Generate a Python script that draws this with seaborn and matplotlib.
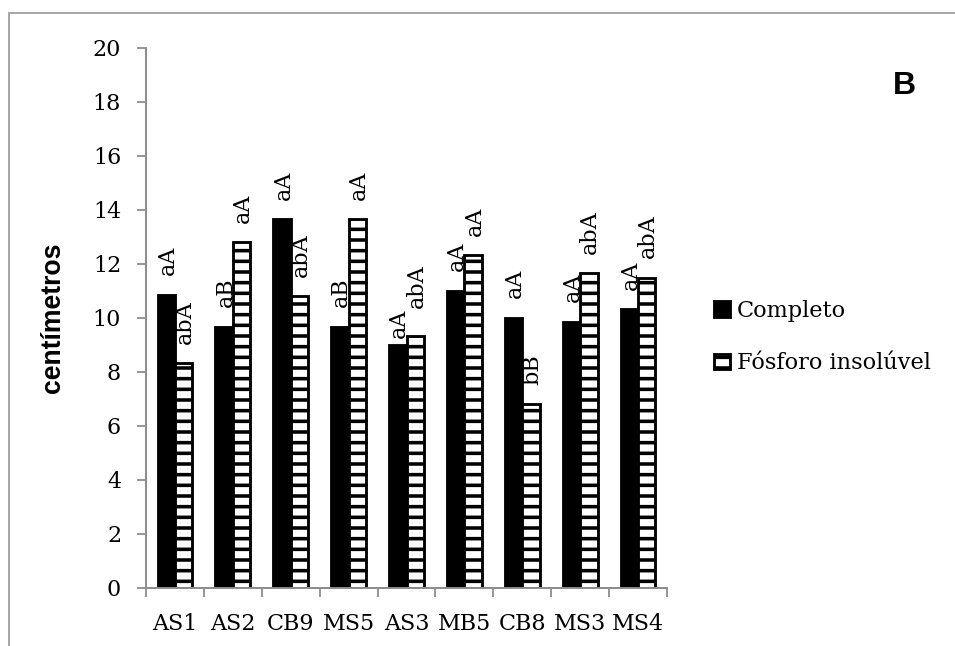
import matplotlib
matplotlib.use("Agg")
import matplotlib.pyplot as plt
from matplotlib.lines import Line2D
import seaborn as sns
import pandas as pd

# Plant height per isolate under two nutrient treatments
categories = ["AS1", "AS2", "CB9", "MS5", "AS3", "MB5", "CB8", "MS3", "MS4"]
completo = [10.85, 9.67, 13.65, 9.67, 9.0, 11.0, 10.0, 9.85, 10.33]
fosforo = [8.33, 12.8, 10.8, 13.65, 9.33, 12.33, 6.8, 11.65, 11.5]
letras_completo = ["aA", "aB", "aA", "aB", "aA", "aA", "aA", "aA", "aA"]
letras_fosforo = ["abA", "aA", "abA", "aA", "abA", "aA", "bB", "abA", "abA"]
series_names = ["Completo", "Fósforo insolúvel"]
y_ticks = [0, 2, 4, 6, 8, 10, 12, 14, 16, 18, 20]

df = pd.DataFrame({
    "isolado": categories * 2,
    "altura": completo + fosforo,
    "tratamento": [series_names[0]] * len(categories) + [series_names[1]] * len(categories),
})

DPI = 128
W, H = 955, 646
sns.set_style("white")
plt.rcParams["font.family"] = ["DejaVu Serif"]
plt.rcParams["hatch.linewidth"] = 2.0
plt.rcParams["hatch.color"] = "black"
for key in ["text.color", "axes.labelcolor", "xtick.labelcolor", "ytick.labelcolor"]:
    plt.rcParams[key] = "black"

fig = plt.figure(figsize=(W / DPI, H / DPI), dpi=DPI)
ax = fig.add_axes([146 / W, 1 - 588 / H, (667 - 146) / W, (588 - 48) / H])

sns.barplot(data=df, x="isolado", y="altura", hue="tratamento",
            palette=["black", "white"], width=0.6, gap=0,
            edgecolor="black", linewidth=1.6, ax=ax)

# hatch the second treatment
for bar in ax.containers[1]:
    bar.set_hatch("--")
    bar.set_edgecolor("black")

# significance letters above bars; when the two bars of a group are
# almost equal, the left label sits lower and the right one higher
for i, (b0, b1) in enumerate(zip(ax.containers[0], ax.containers[1])):
    close = abs(b0.get_height() - b1.get_height()) < 0.5
    offsets = (4, 16) if close else (11, 11)
    for bar, lab, off in zip((b0, b1), (letras_completo[i], letras_fosforo[i]), offsets):
        x = bar.get_x() + bar.get_width() / 2
        y = bar.get_height()
        ax.annotate(lab, (x, y), xytext=(0.8, off), textcoords="offset points",
                    rotation=90, ha="center", va="bottom", fontsize=12.5,
                    color="black")

ax.set_ylim(0, 20)
ax.set_xlim(-0.5, len(categories) - 0.5)
ax.set_yticks(y_ticks)
ax.set_yticklabels([str(t) for t in y_ticks], fontsize=12.5)
ax.set_xticks(range(len(categories)))
ax.set_xticklabels(categories, fontsize=12.5)
ax.set_xlabel("")
ax.set_ylabel("centímetros", fontsize=15, fontweight="bold",
              family="Liberation Sans")
ax.yaxis.set_label_coords(-0.154, 0.5)

spine_gray = "#8c8c8c"
for s in ["top", "right"]:
    ax.spines[s].set_visible(False)
for s in ["left", "bottom"]:
    ax.spines[s].set_color(spine_gray)
    ax.spines[s].set_linewidth(1.1)

ax.tick_params(axis="y", direction="out", length=5, width=1, color=spine_gray,
               pad=9, left=True)
ax.tick_params(axis="x", which="major", length=0, pad=14)
ax.set_xticks([i - 0.5 for i in range(len(categories) + 1)], minor=True)
ax.tick_params(axis="x", which="minor", direction="out", length=5, width=1,
               color=spine_gray, bottom=True)

leg = ax.get_legend()
if leg is not None:
    leg.remove()
fig.legend(ax.containers, series_names, loc="upper left",
           bbox_to_anchor=(714 / W, 1 - 300 / H), frameon=False,
           fontsize=12.7, handlelength=0.7, handleheight=0.7,
           handletextpad=0.3, labelspacing=1.35, borderpad=0,
           borderaxespad=0)

fig.text(904 / W, 1 - 86 / H, "B", ha="center", va="center",
         fontsize=18, fontweight="bold", family="Liberation Sans",
         color="black")

# outer chart frame (top and left edges)
fx, fy = 9 / W, 1 - 13 / H
frame_kw = dict(transform=fig.transFigure, color="#a6a6a6", linewidth=1.1)
fig.add_artist(Line2D([fx, 1.0], [fy, fy], **frame_kw))
fig.add_artist(Line2D([fx, fx], [0.0, fy], **frame_kw))

fig.savefig("out.png", dpi=DPI, facecolor="white")
